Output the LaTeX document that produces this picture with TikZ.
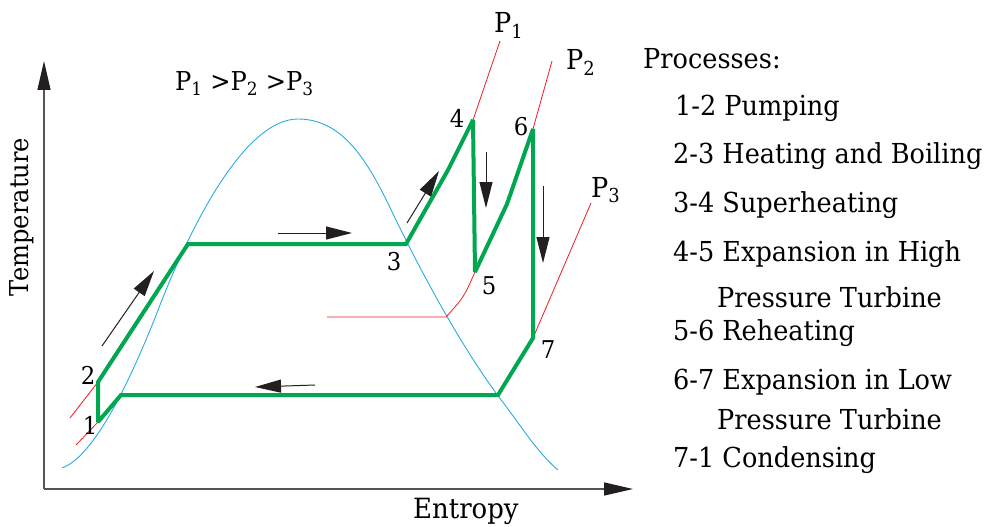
\documentclass[tikz,border=0pt]{standalone}
\usepackage{fontspec}
\setmainfont{DejaVu Serif}[FakeStretch=0.93]
\usetikzlibrary{arrows.meta}
\definecolor{cyc}{HTML}{00A650}
\definecolor{domec}{HTML}{29ABE2}
\definecolor{isoc}{HTML}{ED1C24}
\definecolor{axc}{HTML}{555555}
\definecolor{arrc}{HTML}{231F20}
\begin{document}
\begin{tikzpicture}[x=1pt,y=-1pt,
  cyclepath/.style={draw=cyc, line width=4pt, line join=miter, miter limit=2},
  domeline/.style={draw=domec, line width=0.9pt},
  isoline/.style={draw=isoc, line width=0.8pt},
  flow/.style={draw=arrc, line width=1pt, -{Triangle[length=26pt,width=13pt]}},
  axisline/.style={draw=axc, line width=1.3pt, -{Triangle[length=29pt,width=13pt,color=arrc]}},
  lab/.style={inner sep=0, font=\fontsize{24.5}{28}\selectfont},
  txt/.style={anchor=base west, inner sep=0, font=\fontsize{27.5}{32}\selectfont}]
\useasboundingbox (0,0) rectangle (991,527);
% axes
\coordinate (org) at (44,489);
\coordinate (ytip) at (44,61);
\coordinate (xtip) at (633,489);
\draw[axisline] (org) -- (ytip);
\draw[axisline] (org) -- (xtip);
\node[lab, rotate=90, font=\fontsize{26}{30}\selectfont] (tlab) at (22,217) {Temperature};
\node[txt, font=\fontsize{27.9}{32}\selectfont] (elab) at (413,518) {Entropy};
% dome
\draw[domeline] (62,468) .. controls (95,456) and (130,380) .. (155,318)
  .. controls (190,225) and (245,119) .. (298,119)
  .. controls (345,119) and (370,165) .. (395,218)
  .. controls (430,290) and (470,360) .. (505,405)
  .. controls (525,432) and (540,455) .. (558,470);
% cycle points
\coordinate (s1) at (98,422);
\coordinate (s2) at (98,382);
\coordinate (f) at (188,244);
\coordinate (s3) at (406,244);
\coordinate (g) at (448,170);
\coordinate (s4) at (473,120);
\coordinate (s5) at (475,272);
\coordinate (h) at (507,204);
\coordinate (s6) at (533,129);
\coordinate (s7) at (533,338);
\coordinate (k) at (498,395);
\coordinate (m) at (121,395);
% isobars
\coordinate (p1a) at (500,41);
\coordinate (p2a) at (552,61);
\coordinate (p3a) at (591,203);
\coordinate (d5) at (446,317);
\coordinate (hz) at (327,317);
\coordinate (p1b) at (70,418);
\coordinate (p3b) at (76,445);
\draw[isoline] (p1a) -- (s4);
\draw[isoline] (p2a) -- (s6);
\draw[isoline] (p3a) -- (s7);
\draw[isoline] (s5) .. controls (464,297) .. (d5) -- (hz);
\draw[isoline] (s2) -- (p1b);
\draw[isoline] (s1) -- (p3b);
% cycle
\draw[cyclepath] (s1) -- (s2) -- (f) -- (s3) -- (g) -- (s4) -- (s5) -- (h) -- (s6) -- (s7) -- (k) -- (m) -- cycle;
% flow arrows
\coordinate (a1s) at (102,346); \coordinate (a1e) at (154,271);
\coordinate (a2s) at (278,233); \coordinate (a2e) at (352,233);
\coordinate (a3s) at (407,223); \coordinate (a3e) at (439,171);
\coordinate (a4s) at (486,152); \coordinate (a4e) at (486,208);
\coordinate (a5s) at (543,186); \coordinate (a5e) at (543,263);
\coordinate (a6s) at (315,385); \coordinate (a6e) at (255,387);
\draw[flow] (a1s) -- (a1e);
\draw[flow] (a2s) -- (a2e);
\draw[flow] (a3s) -- (a3e);
\draw[flow] (a4s) -- (a4e);
\draw[flow] (a5s) -- (a5e);
\draw[flow] (a6s) -- (a6e);
% state labels
\node[lab] (n1) at (90,425) {1};
\node[lab] (n2) at (88,375) {2};
\node[lab] (n3) at (394,262) {3};
\node[lab] (n4) at (457,118) {4};
\node[lab] (n5) at (489,286) {5};
\node[lab] (n6) at (521,127) {6};
\node[lab] (n7) at (548,350) {7};
% pressure labels
\node[txt] (P1) at (494,33) {P\textsubscript{1}};
\node[txt] (P2) at (566,70) {P\textsubscript{2}};
\node[txt] (P3) at (591,197) {P\textsubscript{3}};
\node[txt, font=\fontsize{26}{30}\selectfont] (ord) at (175,91) {P\textsubscript{1} >P\textsubscript{2} >P\textsubscript{3}};
% process list
\node[txt] (pr) at (643,69) {Processes:};
\node[txt] (l1) at (675,115) {1-2 Pumping};
\node[txt] (l2) at (673,163) {2-3 Heating and Boiling};
\node[txt] (l3) at (673,212) {3-4 Superheating};
\node[txt] (l4) at (673,261) {4-5 Expansion in High};
\node[txt] (l4b) at (717,307) {Pressure Turbine};
\node[txt] (l5) at (673,340) {5-6 Reheating};
\node[txt] (l6) at (673,389) {6-7 Expansion in Low};
\node[txt] (l6b) at (717,429) {Pressure Turbine};
\node[txt] (l7) at (673,467) {7-1 Condensing};
\end{tikzpicture}
\end{document}
